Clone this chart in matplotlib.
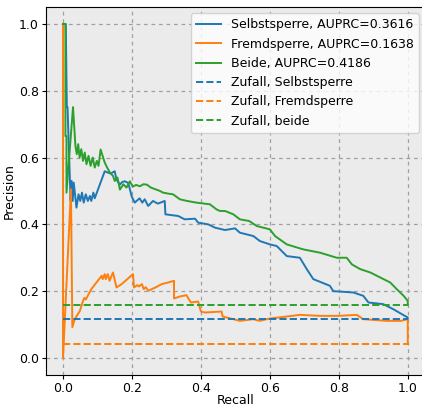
import matplotlib
matplotlib.use("Agg")
import matplotlib.pyplot as plt

# Precision-recall curves
sel_recall = [0.000, 0.008, 0.011, 0.013, 0.022, 0.025, 0.028, 0.031, 0.039, 0.045, 0.050, 0.055,
              0.060, 0.066, 0.072, 0.078, 0.082, 0.088, 0.092, 0.121, 0.130, 0.138, 0.150, 0.155,
              0.165, 0.172, 0.179, 0.189, 0.194, 0.199, 0.208, 0.222, 0.230, 0.237, 0.247, 0.261,
              0.275, 0.295, 0.297, 0.334, 0.353, 0.383, 0.392, 0.421, 0.441, 0.470, 0.499, 0.513,
              0.552, 0.571, 0.600, 0.620, 0.649, 0.687, 0.707, 0.726, 0.774, 0.784, 0.842, 0.871,
              0.886, 0.929, 0.958, 0.983, 1.000, 1.000]
sel_precision = [1.000, 1.000, 0.751, 0.751, 0.470, 0.530, 0.470, 0.525, 0.450, 0.490, 0.470, 0.495,
                 0.465, 0.490, 0.470, 0.485, 0.470, 0.495, 0.478, 0.559, 0.555, 0.552, 0.559, 0.534,
                 0.519, 0.527, 0.529, 0.524, 0.505, 0.484, 0.465, 0.478, 0.465, 0.475, 0.455, 0.470,
                 0.462, 0.470, 0.430, 0.425, 0.415, 0.417, 0.405, 0.400, 0.390, 0.383, 0.388, 0.375,
                 0.365, 0.350, 0.340, 0.335, 0.305, 0.300, 0.266, 0.236, 0.216, 0.200, 0.196, 0.186,
                 0.166, 0.161, 0.146, 0.131, 0.121, 0.118]

frd_recall = [0.000, 0.000, 0.023, 0.027, 0.034, 0.049, 0.058, 0.062, 0.066, 0.082, 0.097, 0.112,
              0.115, 0.121, 0.124, 0.130, 0.135, 0.145, 0.155, 0.170, 0.203, 0.206, 0.215, 0.220,
              0.229, 0.234, 0.240, 0.247, 0.270, 0.286, 0.305, 0.322, 0.322, 0.339, 0.358, 0.371,
              0.392, 0.400, 0.412, 0.460, 0.463, 0.475, 0.513, 0.552, 0.570, 0.600, 0.649, 0.687,
              0.746, 0.800, 0.852, 0.871, 0.939, 0.980, 1.000, 1.000]
frd_precision = [1.000, 0.000, 0.505, 0.092, 0.116, 0.141, 0.171, 0.180, 0.175, 0.206, 0.226, 0.246,
                 0.236, 0.251, 0.236, 0.251, 0.231, 0.256, 0.211, 0.221, 0.251, 0.211, 0.218, 0.214,
                 0.221, 0.206, 0.212, 0.201, 0.212, 0.221, 0.226, 0.231, 0.178, 0.184, 0.188, 0.166,
                 0.169, 0.139, 0.136, 0.139, 0.124, 0.121, 0.111, 0.116, 0.111, 0.118, 0.124, 0.129,
                 0.126, 0.126, 0.129, 0.116, 0.111, 0.111, 0.116, 0.042]

both_recall = [0.000, 0.007, 0.007, 0.010, 0.010, 0.029, 0.036, 0.040, 0.044, 0.048, 0.053, 0.058,
               0.063, 0.068, 0.074, 0.080, 0.086, 0.092, 0.098, 0.103, 0.109, 0.121, 0.128, 0.136,
               0.145, 0.150, 0.158, 0.165, 0.175, 0.184, 0.194, 0.202, 0.212, 0.223, 0.233, 0.243,
               0.255, 0.268, 0.281, 0.290, 0.305, 0.319, 0.339, 0.360, 0.387, 0.410, 0.426, 0.445,
               0.455, 0.470, 0.494, 0.513, 0.540, 0.562, 0.600, 0.615, 0.649, 0.697, 0.746, 0.794,
               0.823, 0.838, 0.862, 0.891, 0.920, 0.949, 0.968, 0.988, 1.000, 1.000]
both_precision = [1.000, 1.000, 0.664, 0.664, 0.495, 0.751, 0.634, 0.610, 0.640, 0.600, 0.625, 0.590,
                  0.615, 0.580, 0.605, 0.575, 0.600, 0.570, 0.590, 0.575, 0.624, 0.585, 0.570, 0.555,
                  0.545, 0.530, 0.540, 0.504, 0.520, 0.510, 0.529, 0.513, 0.518, 0.514, 0.520, 0.519,
                  0.510, 0.505, 0.500, 0.495, 0.492, 0.490, 0.475, 0.470, 0.465, 0.462, 0.460, 0.445,
                  0.440, 0.440, 0.430, 0.415, 0.410, 0.395, 0.385, 0.365, 0.340, 0.325, 0.315, 0.300,
                  0.300, 0.280, 0.266, 0.256, 0.241, 0.226, 0.206, 0.186, 0.171, 0.160]

# Baselines (positive rate)
base_sel = 0.118
base_frd = 0.042
base_both = 0.160

labels = ["Selbstsperre, AUPRC=0.3616", "Fremdsperre, AUPRC=0.1638", "Beide, AUPRC=0.4186",
          "Zufall, Selbstsperre", "Zufall, Fremdsperre", "Zufall, beide"]

plt.rcParams["font.size"] = 9

fig = plt.figure(figsize=(4.22, 4.07), dpi=100)
ax = fig.add_axes([0.1085, 0.0795, 0.8986, 0.9027])
ax.set_facecolor("#ebebeb")

ax.plot(sel_recall, sel_precision, color="C0", lw=1.4, label=labels[0])
ax.plot(frd_recall, frd_precision, color="C1", lw=1.4, label=labels[1])
ax.plot(both_recall, both_precision, color="C2", lw=1.4, label=labels[2])
ax.plot([0, 1], [base_sel, base_sel], "--", color="C0", lw=1.4, label=labels[3])
ax.plot([0, 1], [base_frd, base_frd], "--", color="C1", lw=1.4, label=labels[4])
ax.plot([0, 1], [base_both, base_both], "--", color="C2", lw=1.4, label=labels[5])

ax.set_xlim(-0.05, 1.05)
ax.set_ylim(-0.05, 1.05)
ax.set_xticks([0.0, 0.2, 0.4, 0.6, 0.8, 1.0])
ax.set_yticks([0.0, 0.2, 0.4, 0.6, 0.8, 1.0])
ax.tick_params(length=3, pad=2)
ax.grid(True, linestyle=(0, (3, 3)), color="#a0a0a0", linewidth=0.9)
ax.set_axisbelow(True)
ax.set_xlabel("Recall", labelpad=-0.5)
ax.set_ylabel("Precision", labelpad=2)
ax.legend(loc="upper right")

plt.savefig("out.png", dpi=100)
